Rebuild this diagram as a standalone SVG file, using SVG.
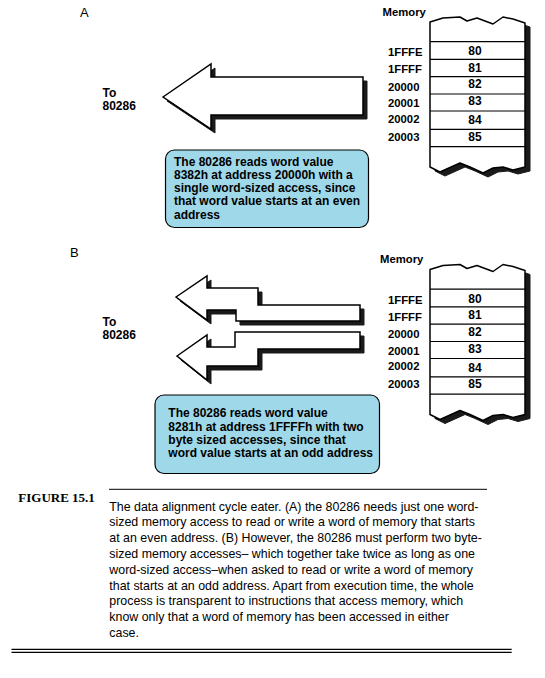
<svg xmlns="http://www.w3.org/2000/svg" width="545" height="678" viewBox="0 0 545 678">
<defs>
<style>
.bold{font-family:"Liberation Sans",Arial,sans-serif;font-weight:bold;fill:#000}
.reg{font-family:"Liberation Sans",Arial,sans-serif;fill:#000}
.mem{font-size:11.3px}
.val{font-size:12px}
.lbl{font-size:12px}
.call{font-size:12px}
.cap{font-size:12.4px}
.shadow{fill:#1a1a1a;stroke:#1a1a1a;stroke-width:1}
.arrow{fill:#fff;stroke:#000;stroke-width:1.5;stroke-linejoin:miter}
.box{fill:#9fd8e8;stroke:#000;stroke-width:1.2}
.row{stroke:#000;stroke-width:1.2}
.memshape{fill:#fff;stroke:#000;stroke-width:1.5;stroke-linejoin:round}
</style>
<g id="memshape">
<path class="shadow" d="M435,26 L448,22 L465,21 L472,25 L482,22 L498,28 L508,21 L518,23 L530,27 L530,171 L518,174 L508,171 L498,172 L488,177 L475,171 L465,167 L445,176 L435,171 Z"/>
<path class="memshape" d="M430,22 L443,18 L460,17 L467,21 L477,18 L493,24 L503,17 L513,19 L525,23 L525,167 L513,170 L503,167 L493,168 L483,173 L470,167 L460,163 L440,172 L430,167 Z"/>
<line class="row" x1="430" y1="41.7" x2="525" y2="41.7"/>
<line class="row" x1="430" y1="59.3" x2="525" y2="59.3"/>
<line class="row" x1="430" y1="76.7" x2="525" y2="76.7"/>
<line class="row" x1="430" y1="94" x2="525" y2="94"/>
<line class="row" x1="430" y1="111" x2="525" y2="111"/>
<line class="row" x1="430" y1="129.3" x2="525" y2="129.3"/>
<line class="row" x1="430" y1="146.7" x2="525" y2="146.7"/>
</g>
<g id="memtext">
<text class="bold mem" x="388" y="56">1FFFE</text>
<text class="bold mem" x="388" y="73.3">1FFFF</text>
<text class="bold mem" x="388" y="90.7">20000</text>
<text class="bold mem" x="388" y="107.3">20001</text>
<text class="bold mem" x="388" y="122.7">20002</text>
<text class="bold mem" x="388" y="140.7">20003</text>
<g text-anchor="middle">
<text class="bold val" x="475" y="55">80</text>
<text class="bold val" x="475" y="71.7">81</text>
<text class="bold val" x="475" y="88.3">82</text>
<text class="bold val" x="475" y="105">83</text>
<text class="bold val" x="475" y="124">84</text>
<text class="bold val" x="475" y="140.7">85</text>
</g>
</g>
</defs>

<g id="panel-A-label"><text class="reg" font-size="13" x="80" y="16.5">A</text></g>
<g id="panel-B-label"><text class="reg" font-size="13" x="70" y="256.5">B</text></g>

<g id="to80286-A"><text class="bold lbl" x="102.5" y="96.5">To</text><text class="bold lbl" x="102.5" y="110">80286</text></g>
<g id="to80286-B"><text class="bold lbl" x="102.5" y="326">To</text><text class="bold lbl" x="102.5" y="338.5">80286</text></g>

<g id="connectors">
<g id="arrow-A">
<polygon class="shadow" points="167,101 215,68 215,81 367,81 367,119 215,119 215,133"/>
<polygon class="arrow" points="163,97 211,64 211,77 363,77 363,115 211,115 211,129"/>
</g>
<g id="arrow-B1">
<polygon class="shadow" points="180,301 211,280 211,292 262,292 262,309 364,309 364,325 240,325 240,314 211,314 211,324"/>
<polygon class="arrow" points="176,297 207,276 207,288 258,288 258,305 360,305 360,321 236,321 236,310 207,310 207,320"/>
</g>
<g id="arrow-B2">
<polygon class="shadow" points="181,360 211,339 211,351 239,351 239,336 364,336 364,353 262,353 262,370 211,370 211,384"/>
<polygon class="arrow" points="177,356 207,335 207,347 235,347 235,332 360,332 360,349 258,349 258,366 207,366 207,380"/>
</g>
</g>

<g id="memory-A">
<text class="bold mem" x="382.5" y="16">Memory</text>
<use href="#memshape"/>
<use href="#memtext"/>
</g>

<g id="memory-B">
<text class="bold mem" x="380" y="262.5">Memory</text>
<g transform="translate(0,247.5)">
<use href="#memshape"/>
<use href="#memtext"/>
</g>
</g>

<g id="callout-A">
<rect class="box" x="165.5" y="150" width="203" height="77.5" rx="9"/>
<text class="bold call" x="174" y="165.7">The 80286 reads word value</text>
<text class="bold call" x="174" y="179">8382h at address 20000h with a</text>
<text class="bold call" x="174" y="192.2">single word-sized access, since</text>
<text class="bold call" x="174" y="205.4">that word value starts at an even</text>
<text class="bold call" x="174" y="218.6">address</text>
</g>

<g id="callout-B">
<rect class="box" x="155" y="395" width="224.5" height="78.5" rx="9"/>
<text class="bold call" x="168.3" y="417.3">The 80286 reads word value</text>
<text class="bold call" x="168.3" y="430.5">8281h at address 1FFFFh with two</text>
<text class="bold call" x="168.3" y="443.7">byte sized accesses, since that</text>
<text class="bold call" x="168.3" y="456.9">word value starts at an odd address</text>
</g>

<g id="caption">
<line x1="109" y1="489.3" x2="487" y2="489.3" stroke="#000" stroke-width="1"/>
<text x="18.3" y="501.5" font-family="'Liberation Serif','Times New Roman',serif" font-weight="bold" font-size="13">FIGURE 15.1</text>
<g class="reg cap">
<text x="109.3" y="510.5">The data alignment cycle eater. (A) the 80286 needs just one word-</text>
<text x="109.3" y="526.3">sized memory access to read or write a word of memory that starts</text>
<text x="109.3" y="542.1">at an even address. (B) However, the 80286 must perform two byte-</text>
<text x="109.3" y="557.9">sized memory accesses– which together take twice as long as one</text>
<text x="109.3" y="573.7">word-sized  access–when asked to read or write a word of memory</text>
<text x="109.3" y="589.5">that starts at an odd address. Apart from execution time, the whole</text>
<text x="109.3" y="605.3">process is transparent to instructions that access memory, which</text>
<text x="109.3" y="621.1">know only that a word of memory has been accessed in either</text>
<text x="109.3" y="636.9">case.</text>
</g>
<line x1="11.5" y1="649.3" x2="511.7" y2="649.3" stroke="#000" stroke-width="1.2"/>
<line x1="11.5" y1="652.3" x2="511.7" y2="652.3" stroke="#000" stroke-width="1.2"/>
</g>
</svg>
